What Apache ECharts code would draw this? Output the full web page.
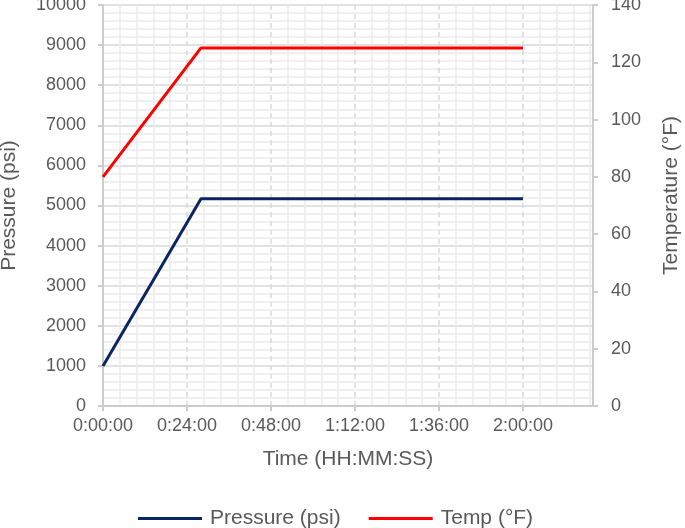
<!DOCTYPE html>
<html>
<head>
<meta charset="utf-8">
<script src="https://cdn.jsdelivr.net/npm/echarts@6/dist/echarts.min.js"></script>
<style>
  html, body { margin: 0; padding: 0; background: #fff; }
  #chart { width: 685px; height: 528px; }
</style>
</head>
<body>
<div id="chart"></div>
<script>
// time in minutes from start
const timeMin = [0, 28, 120];
const pressure = [1000, 5170, 5170];
const temp = [80, 125, 125];

const textColor = '#595959';
const font = 'Liberation Sans, Arial, sans-serif';

function hms(v) {
  const h = Math.floor(v / 60);
  const m = Math.round(v % 60);
  return h + ':' + String(m).padStart(2, '0') + ':00';
}

const myEcharts = echarts.init(document.getElementById('chart'));
myEcharts.setOption({
  animation: false,
  textStyle: { fontFamily: font },
  grid: { left: 103, right: 92, top: 5, bottom: 122, outerBoundsMode: 'none' },
  legend: {
    top: 503,
    left: 133,
    itemWidth: 64,
    itemHeight: 3,
    itemGap: 28,
    icon: 'rect',
    textStyle: { color: textColor, fontSize: 21, fontFamily: font, padding: [0, 0, 0, 3] },
    data: ['Pressure (psi)', 'Temp (°F)']
  },
  xAxis: {
    type: 'value',
    min: 0,
    max: 140,
    interval: 24,
    name: 'Time (HH:MM:SS)',
    nameLocation: 'middle',
    nameGap: 43,
    nameTextStyle: { color: textColor, fontSize: 21 },
    axisLine: { lineStyle: { color: '#cccccc', width: 2 } },
    axisTick: { show: true, length: 5, lineStyle: { color: '#cccccc', width: 2 } },
    axisLabel: { color: textColor, fontSize: 18, margin: 11, showMaxLabel: false, formatter: hms },
    splitLine: { show: true, lineStyle: { color: '#d9d9d9', width: 1.5, type: [5, 4] } },
    minorTick: { show: false, splitNumber: 5 },
    minorSplitLine: { show: true, lineStyle: { color: '#ececec', width: 1.5 } }
  },
  yAxis: [
    {
      type: 'value',
      min: 0,
      max: 10000,
      interval: 1000,
      name: 'Pressure (psi)',
      nameLocation: 'middle',
      nameGap: 83,
      nameTextStyle: { color: textColor, fontSize: 21 },
      axisLine: { show: true, lineStyle: { color: '#cccccc', width: 2 } },
      axisTick: { show: true, length: 5, lineStyle: { color: '#cccccc', width: 2 } },
      axisLabel: { color: textColor, fontSize: 18, margin: 17, formatter: v => String(v) },
      splitLine: { show: true, lineStyle: { color: '#d9d9d9', width: 1.5 } },
      minorTick: { show: false, splitNumber: 5 },
      minorSplitLine: { show: true, lineStyle: { color: '#ececec', width: 1.5 } }
    },
    {
      type: 'value',
      min: 0,
      max: 140,
      interval: 20,
      name: 'Temperature (°F)',
      nameLocation: 'middle',
      nameGap: 68,
      nameTextStyle: { color: textColor, fontSize: 21, padding: [0, 0, 0, 20] },
      axisLine: { show: true, lineStyle: { color: '#cccccc', width: 2 } },
      axisTick: { show: true, length: 5, lineStyle: { color: '#cccccc', width: 2 } },
      axisLabel: { color: textColor, fontSize: 18, margin: 18 },
      splitLine: { show: false }
    }
  ],
  series: [
    {
      name: 'Pressure (psi)',
      type: 'line',
      yAxisIndex: 0,
      symbol: 'none',
      color: '#0b2564',
      lineStyle: { width: 3, color: '#0b2564' },
      data: timeMin.map((t, i) => [t, pressure[i]])
    },
    {
      name: 'Temp (°F)',
      type: 'line',
      yAxisIndex: 1,
      symbol: 'none',
      color: '#ff0000',
      lineStyle: { width: 3, color: '#ff0000' },
      data: timeMin.map((t, i) => [t, temp[i]])
    }
  ]
});
</script>
</body>
</html>
